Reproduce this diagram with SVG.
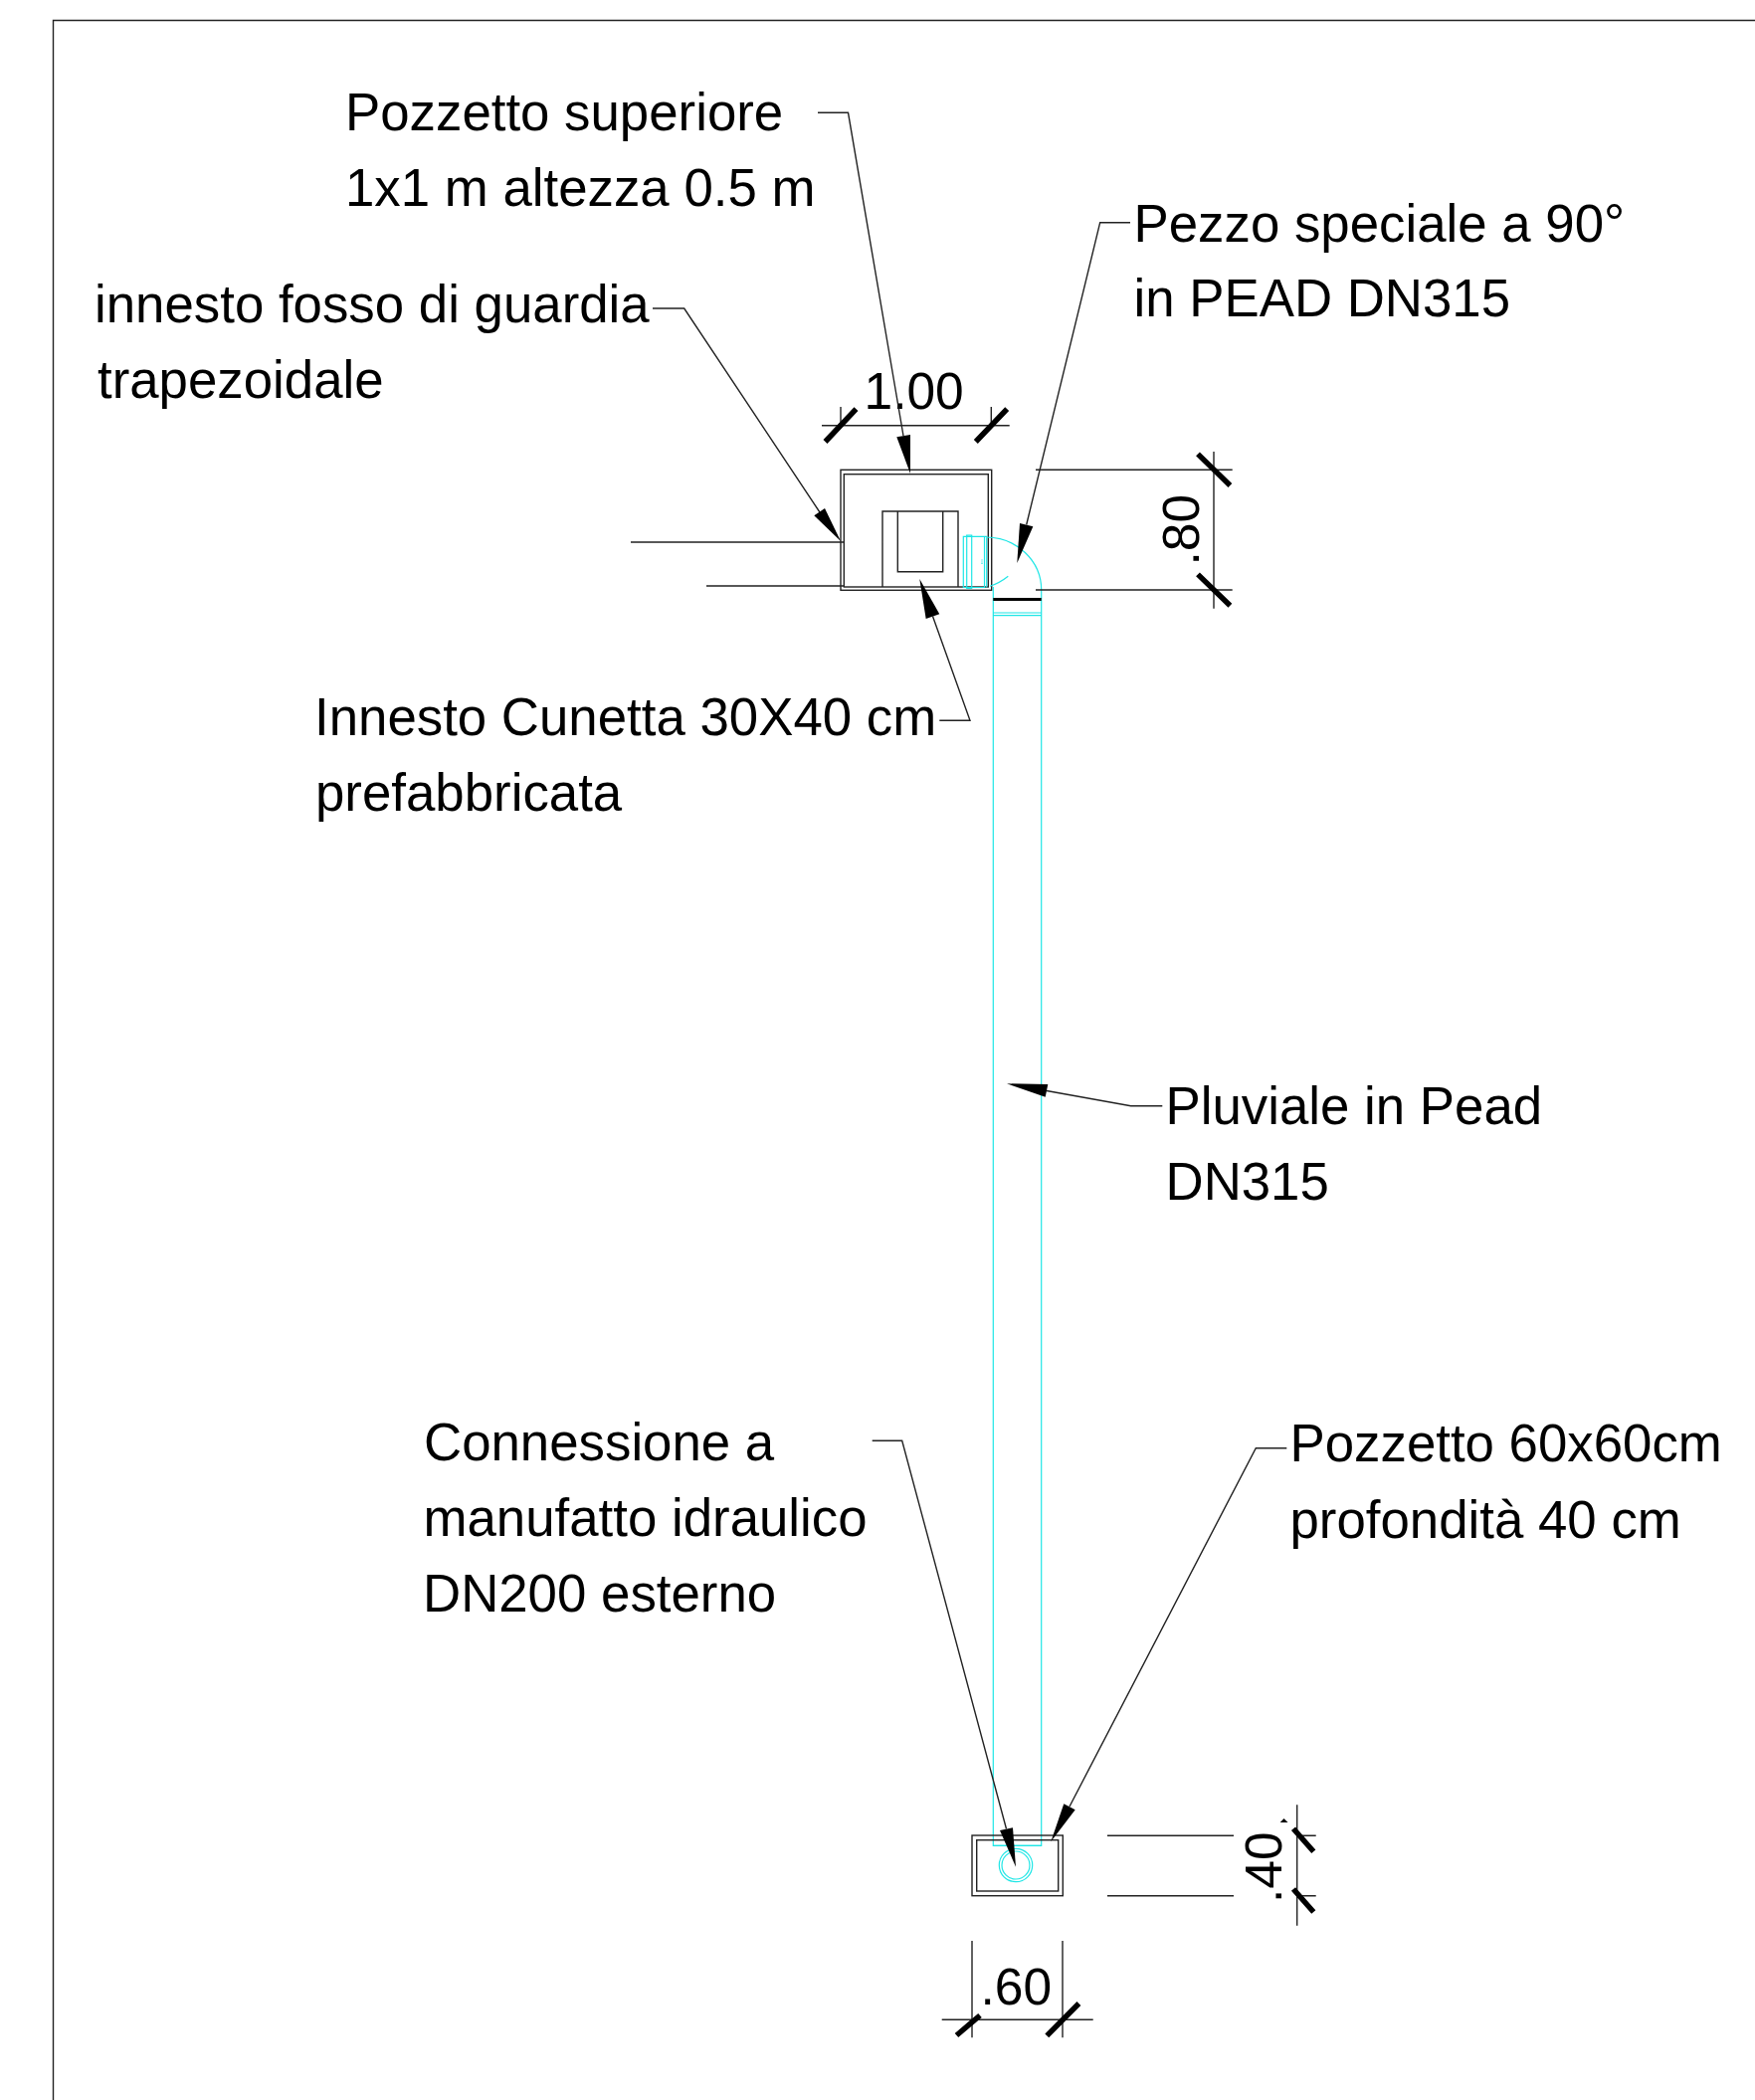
<svg xmlns="http://www.w3.org/2000/svg" width="1764" height="2111" viewBox="0 0 1764 2111">
<style>
text{font-family:"Liberation Sans",Arial,sans-serif;font-size:52.8px;fill:#000}
.d{font-size:51.5px}
.k{fill:none;stroke:#222;stroke-width:1.4}
.c{fill:none;stroke:#1fe6e6;stroke-width:1.2}
.t{stroke:#000;stroke-width:5.5;fill:none}
.a{fill:#000;stroke:none}
</style>
<rect width="1764" height="2111" fill="#fff"/>
<path id="frame" class="k" d="M53.5 2111V20.5H1764"/>
<g id="pozzetto-superiore-box">
<rect class="k" x="845" y="472.3" width="151.7" height="121"/>
<rect class="k" x="848.3" y="476.7" width="145" height="113.3"/>
<path class="k" d="M887 590V514H963V590M902.3 514V574.7H947.7V514M634 545H848M710 589H848"/>
</g>
<g id="pezzo-speciale">
<path class="c" d="M968.3 539.3H989.5V590.5H968.3ZM971.7 538H976.7V591.3H971.7ZM989.5 539.3H991.7V590.5M991 540A55.7 53 0 0 1 1046.7 593V1855.3H998.3V590M995 589.3Q1005 586 1013.3 579.3M998.3 616H1046.7M998.3 618.6H1046.7"/>
<path class="c" d="M986 563H988M986 565H988M986 566.5H988" style="stroke-width:.6"/>
<path class="k" d="M998.3 601.7H1046.7M998.3 603.3H1046.7" style="stroke:#000"/>
</g>
<g id="pozzetto-inferiore">
<rect class="k" x="977" y="1845" width="91.3" height="60.7"/>
<rect class="k" x="981.7" y="1849.7" width="82" height="51.3"/>
<path class="c" d="M998.3 1855.3H1046.3"/>
<circle class="c" cx="1021" cy="1875" r="16.7"/>
<circle class="c" cx="1021" cy="1875" r="14"/>
</g>
<g id="dim-100">
<path class="k" d="M826 427.7H1014.7M845 409V427.7M996.3 409V427.7"/>
<path class="t" d="M829.5 444L860.5 411.2M980.8 444L1012.2 411.2"/>
<text class="d" x="868.5" y="411.3">1.00</text>
</g>
<g id="dim-80">
<path class="k" d="M1041 472.3H1238.7M1041 593H1238.7M1220 454V611.7"/>
<path class="t" d="M1204 456.4L1236.4 488M1204 577.4L1236.4 608.8"/>
<text class="d" transform="translate(1205 568.5) rotate(-90)">.80</text>
</g>
<g id="dim-40">
<path class="k" d="M1113 1845.3H1240M1113 1905.7H1240M1303.7 1814.3V1935.7M1303.7 1845.3H1322.7M1303.7 1905.7H1322.7"/>
<path class="t" d="M1300 1838.3L1320.3 1861.3M1300 1899L1320.3 1922"/>
<polygon class="a" points="1286.7,1832 1290.5,1828 1294.5,1832"/>
<text class="d" transform="translate(1287.7 1913) rotate(-90)">.40</text>
</g>
<g id="dim-60">
<path class="k" d="M946.7 2030.3H1098.7M977 1951V2048.3M1068 1951V2048.3"/>
<path class="t" d="M961.5 2046L985 2026M1052.3 2046.4L1084.4 2014"/>
<text class="d" x="985.5" y="2015">.60</text>
</g>
<g id="connectors">
<path class="k" d="M822 113.3H852.5L908 438"/>
<polygon class="a" points="915,476 901.3,439.3 915,437"/>
<path class="k" d="M656 310H687.7L824 515"/>
<polygon class="a" points="845,544 818.3,518.3 829,511"/>
<path class="k" d="M1136 223.7H1105.7L1031.7 527.5"/>
<polygon class="a" points="1022.3,566 1025,526 1038.3,529.3"/>
<path class="k" d="M944.3 724.3H975L937.5 619.5"/>
<polygon class="a" points="924.3,582 930.7,622 944.3,617.3"/>
<path class="k" d="M1168.3 1111.7H1136.7L1052 1096.5"/>
<polygon class="a" points="1012,1089.3 1053.3,1090 1050.7,1102.7"/>
<path class="k" d="M876.7 1448.3H906.7L1011.5 1838.5"/>
<polygon class="a" points="1021,1876.7 1005,1840 1018,1837.3"/>
<path class="k" d="M1293.3 1455.7H1262.3L1075 1816"/>
<polygon class="a" points="1056.3,1851.3 1069.3,1813.3 1080.7,1819.3"/>
</g>
<g id="label-pozzetto-superiore"><text x="347" y="131">Pozzetto superiore</text><text x="347" y="207">1x1 m altezza 0.5 m</text></g>
<g id="label-innesto-fosso"><text x="95" y="324">innesto fosso di guardia</text><text x="98" y="400">trapezoidale</text></g>
<g id="label-pezzo-speciale"><text x="1139.5" y="242.7">Pezzo speciale a 90°</text><text x="1139.5" y="318.3">in PEAD DN315</text></g>
<g id="label-innesto-cunetta"><text x="316" y="739.3">Innesto Cunetta 30X40 cm</text><text x="317" y="815">prefabbricata</text></g>
<g id="label-pluviale"><text x="1171.5" y="1130">Pluviale in Pead</text><text x="1171.5" y="1206">DN315</text></g>
<g id="label-connessione"><text x="426" y="1467.7">Connessione a</text><text x="425.5" y="1544">manufatto idraulico</text><text x="425" y="1620">DN200 esterno</text></g>
<g id="label-pozzetto-60"><text x="1296.5" y="1469.3">Pozzetto 60x60cm</text><text x="1296.5" y="1545.7">profondità 40 cm</text></g>
</svg>
